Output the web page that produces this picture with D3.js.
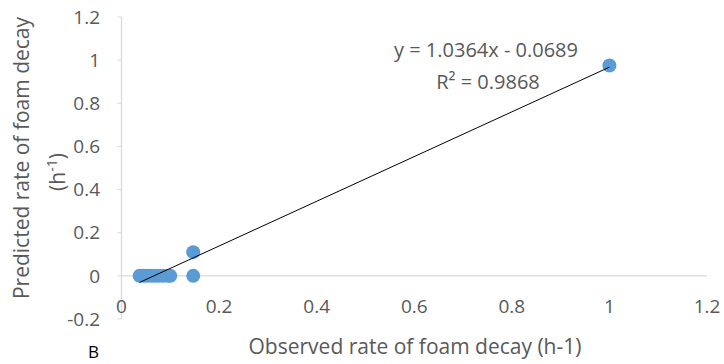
<!DOCTYPE html>
<html>
<head>
<meta charset="utf-8">
<script src="https://cdn.jsdelivr.net/npm/d3@7"></script>
<style>
  body { margin: 0; background: #fff; }
  text { font-family: "Open Sans", "Liberation Sans", sans-serif; fill: #595959; }
</style>
</head>
<body>
<svg id="chart" width="724" height="364"></svg>
<script>
// observed vs predicted rate of foam decay (h-1)
const observed  = [0.037, 0.045, 0.052, 0.06, 0.068, 0.076, 0.085, 0.095, 0.1, 0.147, 0.147, 1.0];
const predicted = [0, 0, 0, 0, 0, 0, 0, 0, 0, 0, 0.11, 0.975];
const slope = 1.0364, intercept = -0.0689;
const xTicks = [0, 0.2, 0.4, 0.6, 0.8, 1, 1.2];
const yTicks = [-0.2, 0, 0.2, 0.4, 0.6, 0.8, 1, 1.2];

const svg = d3.select('#chart');
const x = d3.scaleLinear().domain([0, 1.2]).range([121.5, 707]);
const y = d3.scaleLinear().domain([-0.2, 1.2]).range([319, 17]);

// axes lines
svg.append('line')
  .attr('x1', x(0)).attr('x2', x(0))
  .attr('y1', y(1.2)).attr('y2', y(-0.2))
  .attr('stroke', '#d9d9d9').attr('stroke-width', 1.3);
svg.append('line')
  .attr('x1', x(0)).attr('x2', x(1.2))
  .attr('y1', y(0)).attr('y2', y(0))
  .attr('stroke', '#d9d9d9').attr('stroke-width', 1.3);
// tick marks on the y axis
svg.selectAll('.ytick')
  .data(yTicks)
  .enter()
  .append('line')
  .attr('x1', x(0) - 4).attr('x2', x(0))
  .attr('y1', d => y(d)).attr('y2', d => y(d))
  .attr('stroke', '#d9d9d9');

// tick labels
svg.selectAll('.ylab')
  .data(yTicks)
  .enter()
  .append('text')
  .attr('x', 100)
  .attr('y', d => y(d))
  .attr('dy', '0.35em')
  .attr('text-anchor', 'end')
  .style('font-size', '19px')
  .text(d => d);

svg.selectAll('.xlab')
  .data(xTicks)
  .enter()
  .append('text')
  .attr('x', d => x(d))
  .attr('y', 306)
  .attr('dy', '0.35em')
  .attr('text-anchor', 'middle')
  .style('font-size', '19px')
  .text(d => d);

// points
const pts = observed.map((v, i) => ({ x: v, y: predicted[i] }));
svg.selectAll('.dot')
  .data(pts)
  .enter()
  .append('circle')
  .attr('cx', d => x(d.x))
  .attr('cy', d => y(d.y))
  .attr('r', 7)
  .attr('fill', '#5b9bd5');

// linear trendline
const xmin = d3.min(observed), xmax = d3.max(observed);
svg.append('line')
  .attr('x1', x(xmin)).attr('y1', y(slope * xmin + intercept))
  .attr('x2', x(xmax)).attr('y2', y(slope * xmax + intercept))
  .attr('stroke', '#000').attr('stroke-width', 1);

// equation
svg.append('text')
  .attr('x', 486).attr('y', 57)
  .attr('text-anchor', 'middle')
  .style('font-size', '20px')
  .text('y = 1.0364x - 0.0689');
svg.append('text')
  .attr('x', 488).attr('y', 89)
  .attr('text-anchor', 'middle')
  .style('font-size', '20px')
  .text('R² = 0.9868');

// axis titles
svg.append('text')
  .attr('transform', 'translate(29,158) rotate(-90)')
  .attr('text-anchor', 'middle')
  .style('font-size', '21px')
  .text('Predicted rate of foam decay');
const t2 = svg.append('text')
  .attr('transform', 'translate(65,172) rotate(-90)')
  .attr('text-anchor', 'middle')
  .style('font-size', '21px');
t2.append('tspan').text('(h');
t2.append('tspan').attr('dy', -8).style('font-size', '14px').text('-1');
t2.append('tspan').attr('dy', 8).text(')');

svg.append('text')
  .attr('x', 415).attr('y', 354)
  .attr('text-anchor', 'middle')
  .style('font-size', '21px')
  .text('Observed rate of foam decay (h-1)');

svg.append('text')
  .attr('x', 88).attr('y', 358)
  .style('font-size', '17px')
  .style('fill', '#000')
  .text('B');
</script>
</body>
</html>
